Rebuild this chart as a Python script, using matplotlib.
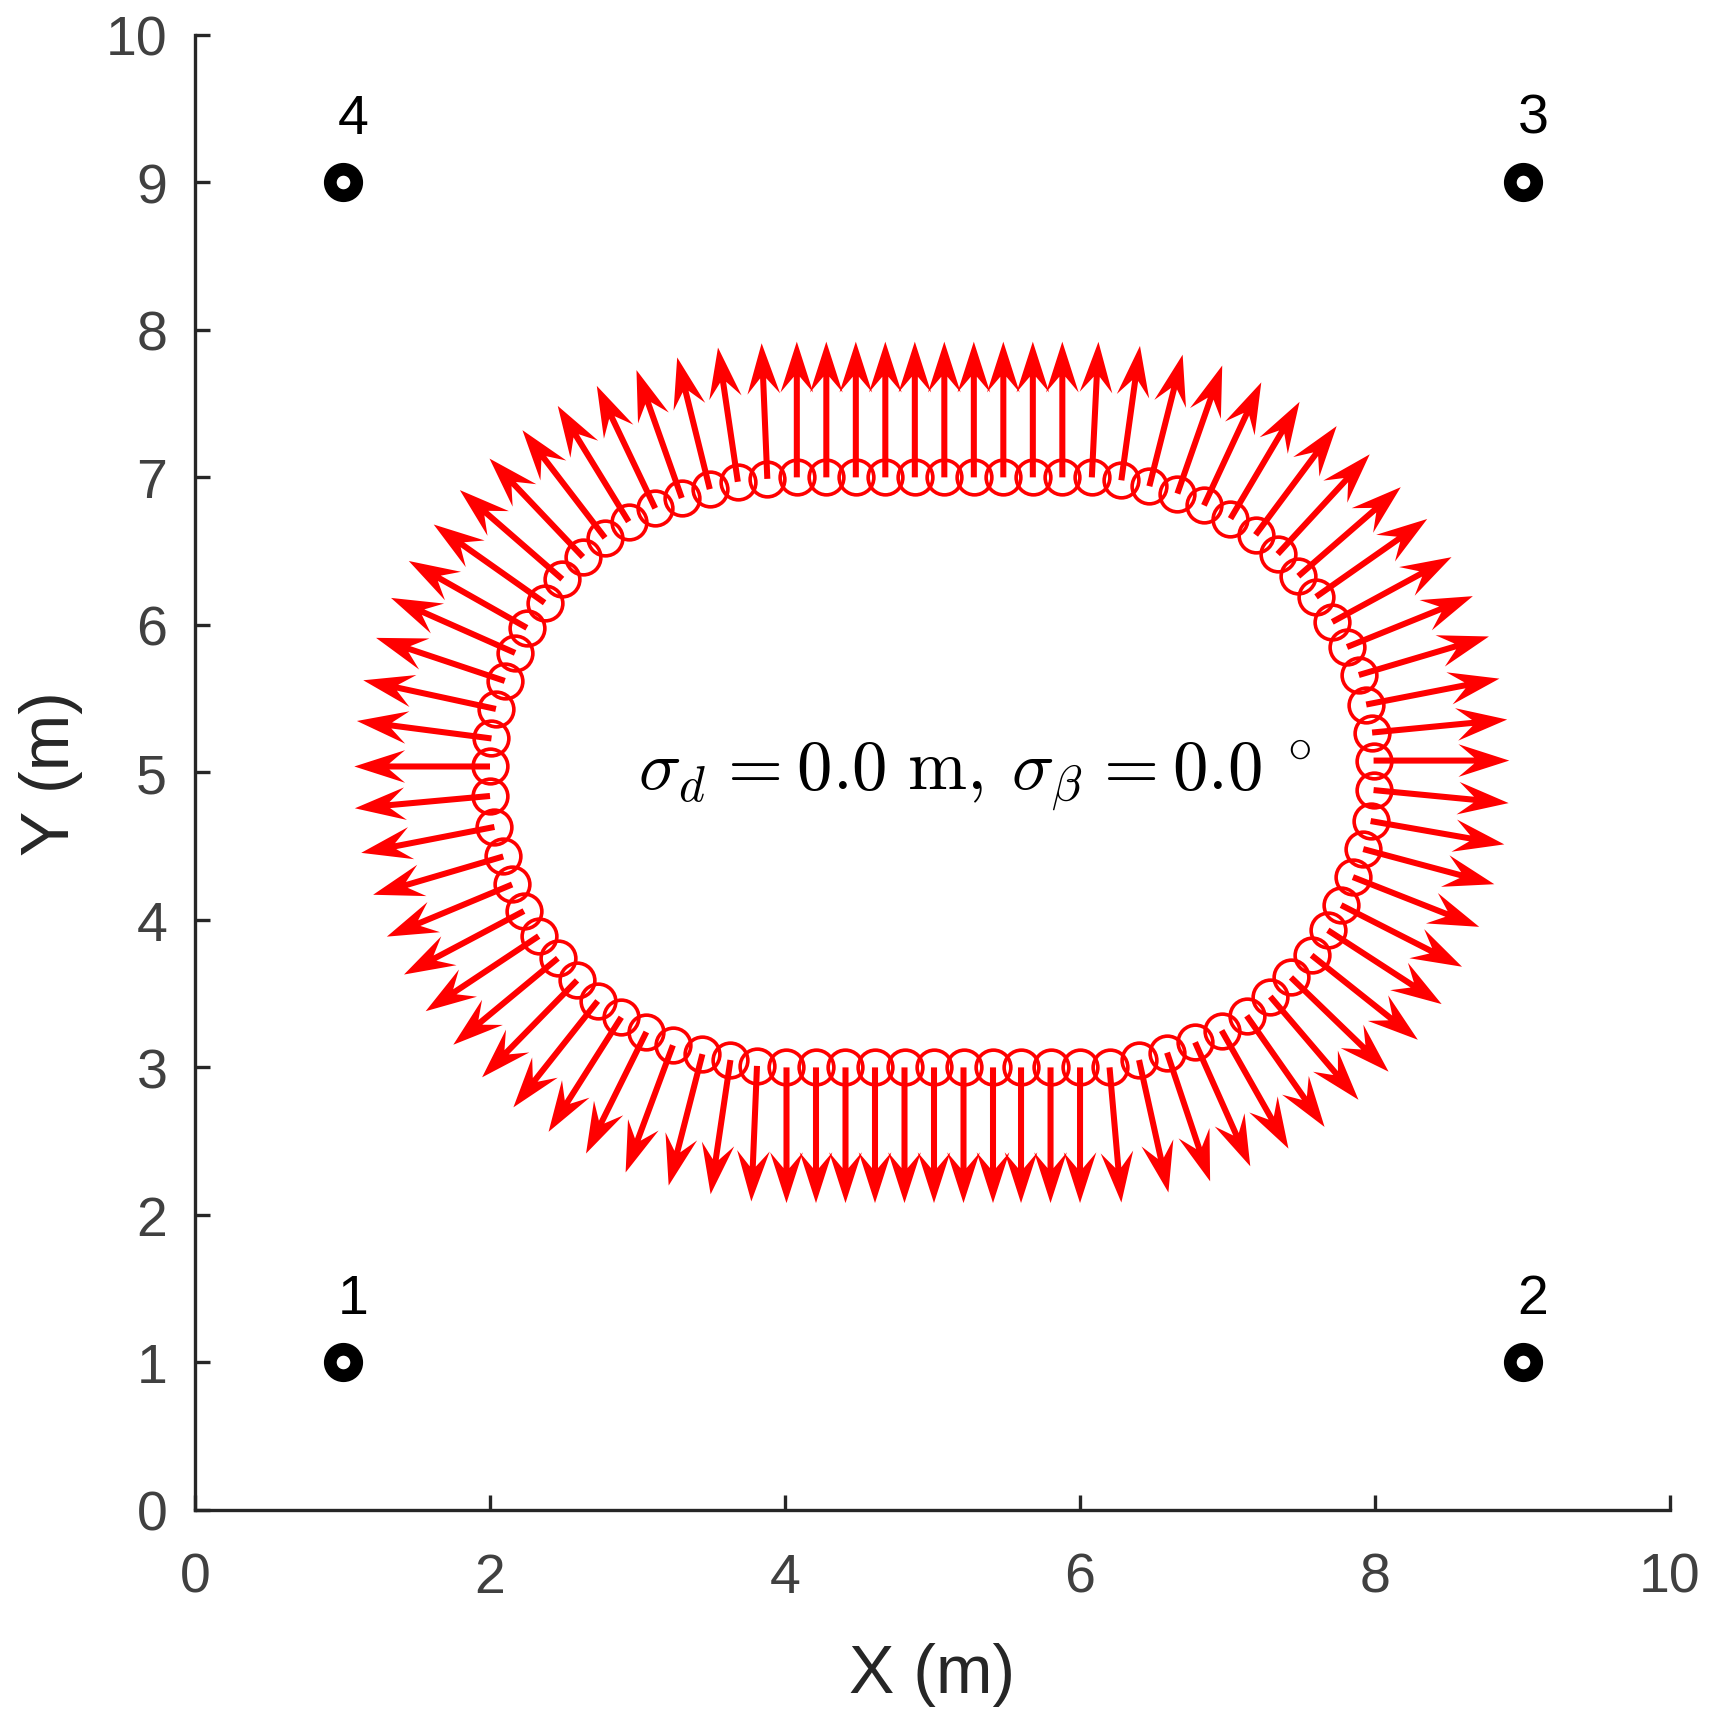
import matplotlib
matplotlib.use("Agg")
import matplotlib.pyplot as plt
import numpy as np

# positions along the track (m), counter-clockwise
track_x = [7.99, 7.98, 7.94, 7.89, 7.81, 7.71, 7.60, 7.48, 7.34, 7.19, 7.02, 6.84,
           6.66, 6.47, 6.28, 6.08, 5.88, 5.68, 5.48, 5.28, 5.08, 4.88, 4.68, 4.48,
           4.28, 4.08, 3.88, 3.68, 3.49, 3.30, 3.12, 2.94, 2.78, 2.63, 2.49, 2.37,
           2.25, 2.17, 2.10, 2.04, 2.01, 2.00, 2.00, 2.03, 2.09, 2.15, 2.23, 2.33,
           2.46, 2.59, 2.73, 2.89, 3.06, 3.24, 3.44, 3.63, 3.81, 4.01, 4.21, 4.41,
           4.61, 4.81, 5.01, 5.21, 5.41, 5.60, 5.80, 6.00, 6.20, 6.40, 6.59, 6.78,
           6.96, 7.13, 7.29, 7.43, 7.57, 7.68, 7.77, 7.85, 7.92, 7.97, 7.99]
track_y = [5.08, 5.27, 5.46, 5.66, 5.85, 6.02, 6.19, 6.33, 6.48, 6.61, 6.72, 6.81,
           6.89, 6.94, 6.98, 7.00, 7.00, 7.00, 7.00, 7.00, 7.00, 7.00, 7.00, 7.00,
           7.00, 7.00, 6.99, 6.97, 6.92, 6.86, 6.79, 6.70, 6.59, 6.46, 6.31, 6.15,
           5.98, 5.81, 5.62, 5.43, 5.23, 5.04, 4.84, 4.63, 4.43, 4.24, 4.06, 3.89,
           3.74, 3.59, 3.45, 3.34, 3.24, 3.15, 3.09, 3.05, 3.01, 3.00, 3.00, 3.00,
           3.00, 3.00, 3.00, 3.00, 3.00, 3.00, 3.00, 3.00, 3.00, 3.05, 3.10, 3.17,
           3.25, 3.35, 3.48, 3.61, 3.76, 3.93, 4.10, 4.29, 4.48, 4.67, 4.88]
# arrow heading (deg from +x axis)
heading = [0.0, 5.5, 11.0, 16.5, 22.0, 28.5, 35.0, 41.0, 47.3, 53.3, 59.4, 65.0,
           70.7, 75.8, 82.1, 87.2, 90.0, 90.0, 90.0, 90.0, 90.0, 90.0, 90.0, 90.0,
           90.0, 90.0, 92.4, 98.4, 103.9, 109.5, 115.5, 121.5, 127.5, 133.5, 139.0, 144.8,
           150.5, 156.1, 161.5, 167.8, 172.6, 180.0, 185.2, 191.0, 196.4, 202.6, 207.9, 213.6,
           219.6, 225.6, 231.6, 237.6, 243.6, 249.6, 255.6, 261.6, 267.6, 270.0, 270.0, 270.0,
           270.0, 270.0, 270.0, 270.0, 270.0, 270.0, 270.0, 270.0, 275.0, 282.5, 288.5, 294.0,
           299.5, 305.0, 310.5, 316.0, 321.5, 327.0, 333.0, 338.5, 345.0, 350.1, 354.5]
arrow_len = 0.92

# anchors
anchor_x = [1, 9, 9, 1]
anchor_y = [1, 1, 9, 9]
anchor_id = ["1", "2", "3", "4"]

plt.rcParams["font.family"] = ["Liberation Sans", "DejaVu Sans"]
plt.rcParams["mathtext.fontset"] = "cm"

fig = plt.figure(figsize=(8.56, 8.575), dpi=200)
ax = fig.add_axes([0.1139, 0.1190, 0.8616, 0.8601])

tx = np.array(track_x)
ty = np.array(track_y)
th = np.deg2rad(heading)
u = arrow_len * np.cos(th)
v = arrow_len * np.sin(th)

ax.plot(tx, ty, "o", ms=12.5, mfc="none", mec="red", mew=1.3, zorder=2)
ax.quiver(tx, ty, u, v, angles="xy", scale_units="xy", scale=1, units="xy",
          width=0.041, headwidth=5.4, headlength=8.4, headaxislength=5.8,
          color="red", zorder=3)

ax.plot(anchor_x, anchor_y, "o", ms=9.5, mfc="white", mec="black", mew=4.6,
        linestyle="none", zorder=4)
for x, y, s in zip(anchor_x, anchor_y, anchor_id):
    ax.text(x + 0.07, y + 0.43, s, ha="center", va="center", fontsize=20, color="black")

ax.text(3.0, 4.98,
        r"$\sigma_d\hspace{0.1}=\hspace{0.03}0.0\ \mathrm{m},\hspace{0.2}"
        r"\sigma_\beta\hspace{0.1}=\hspace{0.03}0.0\hspace{0.35}{}^{\circ}$",
        ha="left", va="center", fontsize=25.5, color="black")

ax.set_xlim(0, 10)
ax.set_ylim(0, 10)
ax.set_xticks(np.arange(0, 11, 2))
ax.set_yticks(np.arange(0, 11, 1))
for side in ["top", "right"]:
    ax.spines[side].set_visible(False)
for side in ["left", "bottom"]:
    ax.spines[side].set_color("#262626")
    ax.spines[side].set_linewidth(1.2)
ax.tick_params(direction="in", length=5.5, width=1.2, color="#262626",
               labelcolor="#404040", labelsize=20)
ax.tick_params(axis="x", pad=15)
ax.tick_params(axis="y", pad=10)
ax.set_xlabel("X (m)", fontsize=24.5, color="#262626", labelpad=14)
ax.set_ylabel("Y (m)", fontsize=24.5, color="#262626", labelpad=8)

fig.savefig("out.png", dpi=200)
